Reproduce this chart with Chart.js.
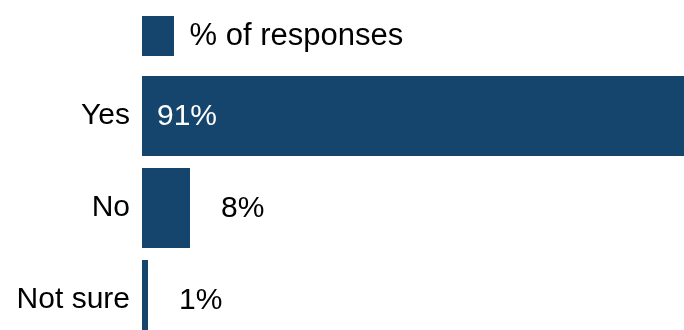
<!DOCTYPE html>
<html><head><meta charset="utf-8">
<script src="https://cdn.jsdelivr.net/npm/chart.js@4.4.0/dist/chart.umd.min.js"></script>
<style>html,body{margin:0;padding:0;overflow:hidden;background:#fff;width:684px;height:330px}
#c{position:absolute;left:0;top:0;width:684px;height:346px}</style></head>
<body><canvas id="c" width="684" height="346"></canvas>
<script>
const categories = ['Yes', 'No', 'Not sure'];
const responses = [91, 8, 1];
const seriesName = '% of responses';
const axisMax = 90.33;
const barColor = '#15446d';
const FONT = '"Liberation Sans", Arial, sans-serif';

const valueLabels = {
  id: 'valueLabels',
  afterDatasetsDraw(chart) {
    const ctx = chart.ctx;
    const meta = chart.getDatasetMeta(0);
    ctx.save();
    ctx.font = '30px ' + FONT;
    ctx.textBaseline = 'middle';
    ctx.textAlign = 'left';
    meta.data.forEach((bar, i) => {
      const txt = responses[i] + '%';
      const w = bar.x - bar.base;
      if (w > 100) { ctx.fillStyle = '#ffffff'; ctx.fillText(txt, bar.base + 15, bar.y + 1); }
      else { ctx.fillStyle = '#000000'; ctx.fillText(txt, bar.x + 31, bar.y + 1); }
    });
    ctx.restore();
  }
};
const legendGap = {
  id: 'legendGap',
  beforeInit(chart) {
    const f = chart.legend.fit;
    chart.legend.fit = function () { f.call(this); this.height += 4; };
  }
};

new Chart(document.getElementById('c'), {
  type: 'bar',
  data: {
    labels: categories,
    datasets: [{
      label: seriesName,
      data: responses,
      backgroundColor: barColor,
      borderWidth: 0,
      categoryPercentage: 1,
      barPercentage: 0.87
    }]
  },
  options: {
    indexAxis: 'y',
    responsive: false,
    devicePixelRatio: 1,
    animation: false,
    layout: { padding: { top: 16, left: 0, right: 0, bottom: 0 } },
    plugins: {
      legend: {
        display: true,
        position: 'top',
        align: 'start',
        fullSize: false,
        labels: { boxWidth: 32, boxHeight: 40, padding: 0, color: '#000', font: { size: 31, family: FONT } }
      },
      tooltip: { enabled: false }
    },
    scales: {
      x: { display: false, min: 0, max: axisMax },
      y: {
        grid: { display: false, drawTicks: false },
        border: { display: false },
        ticks: { color: '#000', padding: 12, font: { size: 30, family: FONT } },
        afterFit(s) { s.width = 142; s.paddingTop = 0; s.paddingBottom = 0; }
      }
    }
  },
  plugins: [legendGap, valueLabels]
});
</script></body></html>
